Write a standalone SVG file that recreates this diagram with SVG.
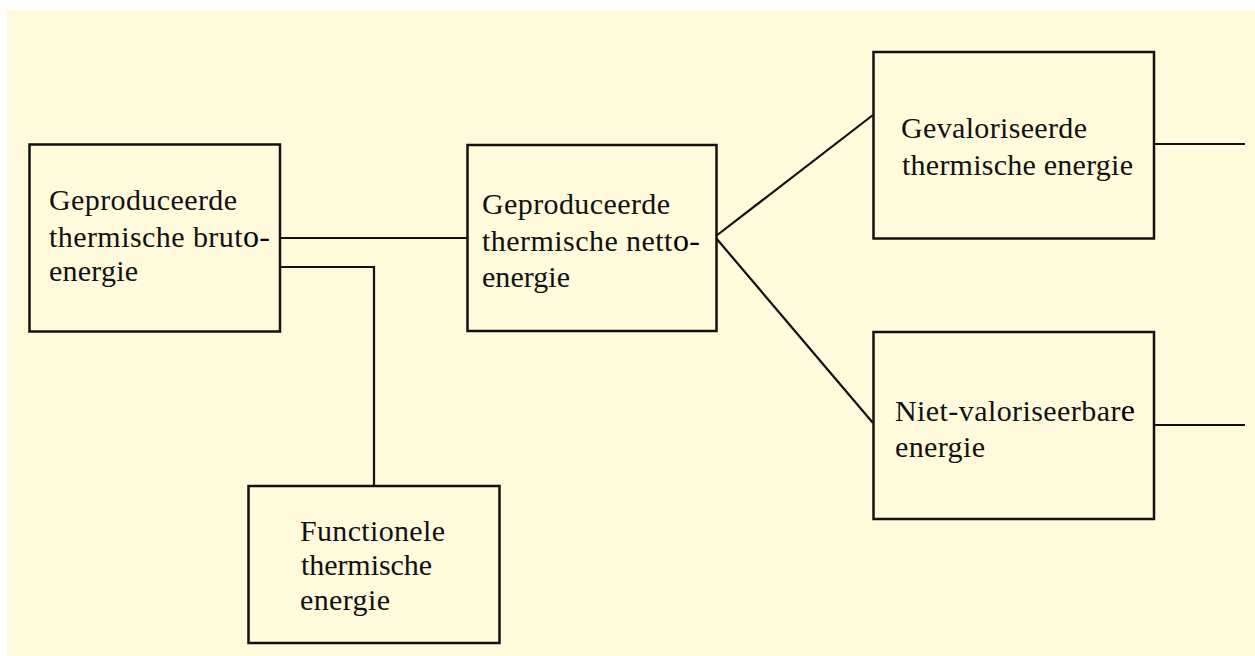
<svg xmlns="http://www.w3.org/2000/svg" width="1255" height="656" viewBox="0 0 1255 656">
<style>
.box{fill:none;stroke:#111;stroke-width:2.5}
.ln{fill:none;stroke:#111;stroke-width:2.2}
.t{font-family:'Liberation Serif','Times New Roman','DejaVu Serif','Noto Serif',serif;font-size:30px;fill:#111}
.big{font-size:32px;fill:#000}
</style>
<rect x="0" y="0" width="1255" height="656" fill="#ffffff"/>
<rect x="7" y="10" width="1248" height="646" fill="#fffadc"/>
<g id="connectors">
<line class="ln" x1="280" y1="238" x2="467" y2="238"/>
<polyline class="ln" points="280,267 374,267 374,486"/>
<line class="ln" x1="716" y1="236" x2="873" y2="115"/>
<line class="ln" x1="716" y1="238" x2="873" y2="423"/>
<line class="ln" x1="1154" y1="144" x2="1245" y2="144"/>
<line class="ln" x1="1154" y1="425" x2="1245" y2="425"/>
</g>
<g id="node-bruto">
<rect class="box" x="29.5" y="144.5" width="250.5" height="187"/>
<text class="t" x="49" y="210" textLength="188">Geproduceerde</text>
<text class="t" x="49" y="247" textLength="221">thermische brut<tspan class="big">o-</tspan></text>
<text class="t" x="49" y="281" textLength="89">energie</text>
</g>
<g id="node-netto">
<rect class="box" x="467.5" y="145" width="249" height="186"/>
<text class="t" x="482" y="214" textLength="188">Geproduceerde</text>
<text class="t" x="482" y="251" textLength="218">thermische nett<tspan class="big">o-</tspan></text>
<text class="t" x="482" y="287" textLength="88">energie</text>
</g>
<g id="node-gevaloriseerd">
<rect class="box" x="873.5" y="52" width="280.5" height="186.5"/>
<text class="t" x="901" y="138" textLength="186">Gevaloriseerde</text>
<text class="t" x="902" y="175" textLength="231">thermische energie</text>
</g>
<g id="node-niet-valoriseerbaar">
<rect class="box" x="873.5" y="332" width="280.5" height="187"/>
<text class="t" x="895" y="421" textLength="240">Niet-valoriseerbar<tspan class="big">e</tspan></text>
<text class="t" x="895" y="457" textLength="90">energie</text>
</g>
<g id="node-functioneel">
<rect class="box" x="248.5" y="486" width="251" height="157"/>
<text class="t" x="300" y="541" textLength="145">Functionele</text>
<text class="t" x="301" y="575" textLength="131">thermische</text>
<text class="t" x="300" y="610" textLength="90">energie</text>
</g>
</svg>
